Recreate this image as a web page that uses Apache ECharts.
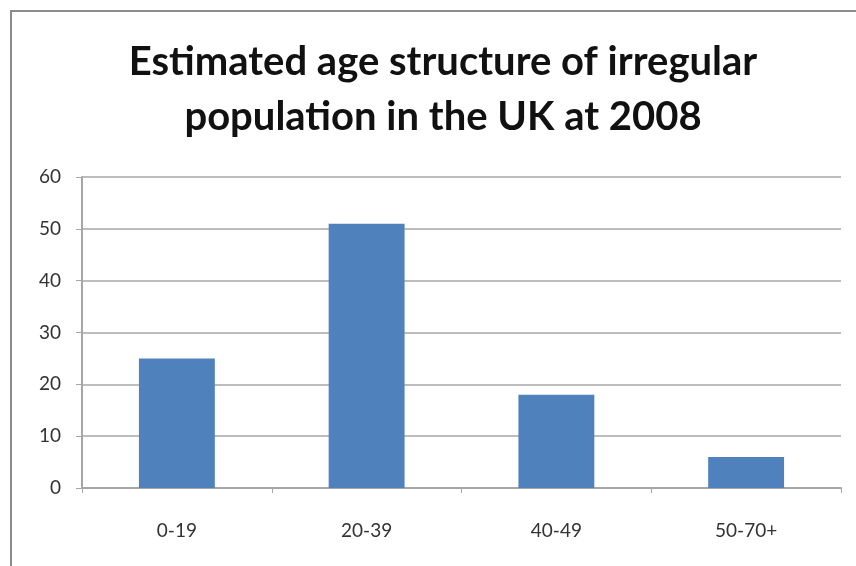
<!DOCTYPE html>
<html>
<head>
<meta charset="utf-8">
<script src="https://cdn.jsdelivr.net/npm/echarts@6/dist/echarts.min.js"></script>
<style>
  html, body { margin: 0; padding: 0; background: #fff; }
  #chart { width: 856px; height: 566px; }
</style>
</head>
<body>
<div id="chart"></div>
<script>
// Age groups and estimated share of the irregular population (%)
const ageGroups = ['0-19', '20-39', '40-49', '50-70+'];
const shares = [25, 51, 18, 6];
const yTicks = { min: 0, max: 60, interval: 10 };
const titleLines = ['Estimated age structure of irregular', 'population in the UK at 2008'];

const chart = echarts.init(document.getElementById('chart'));
chart.setOption({
  animation: false,
  backgroundColor: '#fff',
  graphic: [{
    type: 'rect',
    shape: { x: 11, y: 11, width: 900, height: 600 },
    style: { fill: 'none', stroke: '#8c8c8c', lineWidth: 2 },
    silent: true
  }],
  title: {
    text: titleLines.join('\n'),
    left: 438,
    textAlign: 'center',
    top: 30,
    textStyle: {
      fontFamily: 'Lato',
      fontWeight: 'bold',
      fontSize: 40,
      lineHeight: 55,
      color: '#111'
    }
  },
  grid: { left: 82, right: 15, top: 177, bottom: 78, containLabel: false },
  xAxis: {
    type: 'category',
    data: ageGroups,
    axisLine: { lineStyle: { color: '#a6a6a6', width: 2 } },
    axisTick: { show: true, length: 5, lineStyle: { color: '#a6a6a6' } },
    axisLabel: { fontFamily: 'Lato', fontSize: 19, color: '#333', margin: 33 }
  },
  yAxis: {
    type: 'value',
    min: yTicks.min,
    max: yTicks.max,
    interval: yTicks.interval,
    axisLine: { show: true, lineStyle: { color: '#a6a6a6', width: 2 } },
    axisTick: { show: true, length: 6, lineStyle: { color: '#a6a6a6' } },
    splitLine: { lineStyle: { color: '#bdbdbd', width: 2 } },
    axisLabel: { fontFamily: 'Lato', fontSize: 19, color: '#333', margin: 21 }
  },
  series: [{
    type: 'bar',
    data: shares,
    barWidth: '40%',
    itemStyle: { color: '#4f81bd' }
  }]
});
</script>
</body>
</html>
